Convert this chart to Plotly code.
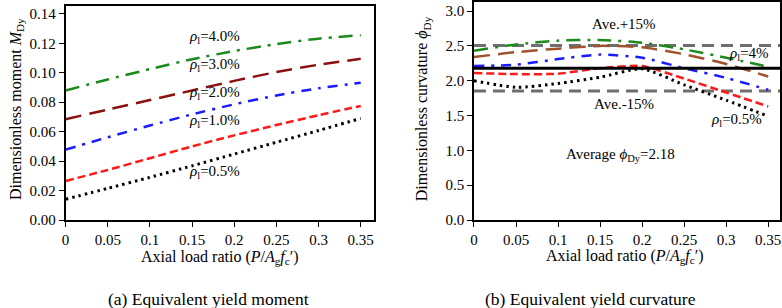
import plotly.graph_objects as go

# ---------------- data ----------------
axial_ratio = [0, 0.05, 0.10, 0.15, 0.20, 0.25, 0.30, 0.35]

# (a) equivalent yield moment M_Dy
moment_rho_40 = [0.0880, 0.0955, 0.1025, 0.1092, 0.1148, 0.1195, 0.1232, 0.1255]
moment_rho_30 = [0.0685, 0.0750, 0.0815, 0.0880, 0.0945, 0.1005, 0.1055, 0.1095]
moment_rho_20 = [0.0478, 0.0562, 0.0642, 0.0718, 0.0786, 0.0846, 0.0895, 0.0932]
moment_rho_10 = [0.0265, 0.0340, 0.0420, 0.0500, 0.0575, 0.0645, 0.0712, 0.0775]
moment_rho_05 = [0.0141, 0.0215, 0.0290, 0.0368, 0.0448, 0.0528, 0.0608, 0.0690]

# (b) equivalent yield curvature phi_Dy
curv_rho_40 = [2.43, 2.52, 2.575, 2.585, 2.545, 2.45, 2.33, 2.20]
curv_rho_30 = [2.34, 2.41, 2.46, 2.50, 2.48, 2.38, 2.24, 2.06]
curv_rho_20 = [2.21, 2.23, 2.31, 2.375, 2.33, 2.18, 2.04, 1.87]
curv_rho_10 = [2.11, 2.095, 2.10, 2.18, 2.21, 2.03, 1.83, 1.63]
curv_rho_05 = [2.00, 1.905, 1.96, 2.05, 2.17, 1.94, 1.72, 1.49]

average_phi = 2.18
band = 0.15

x_ticks = [0, 0.05, 0.1, 0.15, 0.2, 0.25, 0.3, 0.35]
x_tick_text = ["0", "0.05", "0.1", "0.15", "0.2", "0.25", "0.3", "0.35"]
ya_ticks = [0, 0.02, 0.04, 0.06, 0.08, 0.10, 0.12, 0.14]
yb_ticks = [0, 0.5, 1.0, 1.5, 2.0, 2.5, 3.0]

left_labels = ["4.0%", "3.0%", "2.0%", "1.0%", "0.5%"]
left_label_y = [0.1245, 0.1050, 0.0863, 0.0673, 0.0327]

# ---------------- figure ----------------
FONT = "Liberation Serif, Times New Roman, serif"
W, H = 782, 308
PB = 220  # plot-area bottom in pixels
fig = go.Figure()

def add(xa, ya, x, y, color, dash, width):
    fig.add_trace(go.Scatter(x=x, y=y, mode="lines", xaxis=xa, yaxis=ya,
                             line=dict(color=color, dash=dash, width=width, shape="spline", smoothing=0.6),
                             showlegend=False, hoverinfo="skip"))

# left panel
add("x", "y", axial_ratio, moment_rho_40, "#1a8a1a", "14px,7px,3px,7px", 2.5)
add("x", "y", axial_ratio, moment_rho_30, "#8b1010", "16px,8px", 2.5)
add("x", "y", axial_ratio, moment_rho_20, "#1a1aff", "10px,7px,3px,7px", 2.5)
add("x", "y", axial_ratio, moment_rho_10, "#ff1a1a", "8px,4px", 2.5)
add("x", "y", axial_ratio, moment_rho_05, "#000000", "2.5px,4px", 3)

# right panel
x_full = [0, 0.365]
add("x2", "y2", x_full, [average_phi * (1 + band)] * 2, "#6e6e6e", "12px,7px", 3)
add("x2", "y2", x_full, [average_phi * (1 - band)] * 2, "#6e6e6e", "12px,7px", 3)
add("x2", "y2", axial_ratio, curv_rho_40, "#1a8a1a", "14px,7px,3px,7px", 2.5)
add("x2", "y2", axial_ratio, curv_rho_30, "#a0522d", "16px,8px", 2.5)
add("x2", "y2", axial_ratio, curv_rho_20, "#1a1aff", "10px,7px,3px,7px", 2.5)
add("x2", "y2", axial_ratio, curv_rho_10, "#ff1a1a", "8px,4px", 2.5)
add("x2", "y2", axial_ratio, curv_rho_05, "#000000", "2.5px,4px", 3)
add("x2", "y2", x_full, [average_phi] * 2, "#000000", "solid", 3)

axis_common = dict(showline=True, linecolor="black", linewidth=1.5, mirror=True,
                   ticks="outside", ticklen=5, tickwidth=1.2, tickcolor="black",
                   showgrid=False, zeroline=False,
                   tickfont=dict(family=FONT, size=15, color="black"))

fig.update_layout(
    width=W, height=H,
    margin=dict(l=0, r=0, t=0, b=H - PB),
    paper_bgcolor="white", plot_bgcolor="white",
    font=dict(family=FONT, color="black", size=15),
    xaxis=dict(domain=[62 / W, 372 / W], range=[0, 0.3653], tickvals=x_ticks, ticktext=x_tick_text,
               anchor="y", **axis_common),
    yaxis=dict(domain=[0, 216 / PB], range=[0, 0.1454], tickvals=ya_ticks, tickformat=".2f",
               anchor="x", **axis_common),
    xaxis2=dict(domain=[473 / W, 781 / W], range=[0, 0.364], tickvals=x_ticks, ticktext=x_tick_text,
                anchor="y2", **axis_common),
    yaxis2=dict(domain=[0, 1], range=[0, 3.13], tickvals=yb_ticks, tickformat=".1f",
                anchor="x2", **axis_common),
)

def py(p):
    return (PB - p) / PB

def txt(size=15):
    return dict(family=FONT, size=size, color="black")

C = dict(xanchor="center", yanchor="middle", showarrow=False)

ann = []
for lab, yy in zip(left_labels, left_label_y):
    ann.append(dict(x=0.1765, y=yy, xref="x", yref="y", text="<i>ρ</i><sub>l</sub>=" + lab,
                    font=txt(), **C))

ann += [
    dict(x=0.178, y=2.82, xref="x2", yref="y2", text="Ave.+15%", font=txt(), **C),
    dict(x=0.178, y=1.668, xref="x2", yref="y2", text="Ave.-15%", font=txt(), **C),
    dict(x=0.327, y=2.38, xref="x2", yref="y2", text="<i>ρ</i><sub>l</sub>=4%", font=txt(), **C),
    dict(x=0.312, y=1.43, xref="x2", yref="y2", text="<i>ρ</i><sub>l</sub>=0.5%", font=txt(), **C),
    dict(x=0.174, y=0.93, xref="x2", yref="y2", text="Average <i>ϕ</i><sub>Dy</sub>=2.18",
         font=txt(), **C),
    # axis titles
    dict(x=12 / W, y=py(108), xref="paper", yref="paper", text="Dimensionless moment <i>M</i><sub>Dy</sub>",
         textangle=-90, font=txt(16), **C),
    dict(x=421 / W, y=py(108), xref="paper", yref="paper", text="Dimensionless curvature <i>ϕ</i><sub>Dy</sub>",
         textangle=-90, font=txt(16), **C),
    dict(x=217 / W, y=py(258), xref="paper", yref="paper",
         text="Axial load ratio (<i>P</i>/<i>A</i><sub>g</sub><i>f</i><sub>c</sub>′)",
         font=txt(16), **C),
    dict(x=625 / W, y=py(257), xref="paper", yref="paper",
         text="Axial load ratio (<i>P</i>/<i>A</i><sub>g</sub><i>f</i><sub>c</sub>′)",
         font=txt(16), **C),
    # captions
    dict(x=206 / W, y=py(300), xref="paper", yref="paper", text="(a) Equivalent yield moment",
         font=txt(17.5), **C),
    dict(x=590 / W, y=py(300), xref="paper", yref="paper", text="(b) Equivalent yield curvature",
         font=txt(17.5), **C),
]
fig.update_layout(annotations=ann)

fig.write_html("out.html", config={"displayModeBar": False},
               post_script="document.body.style.margin='0';")
